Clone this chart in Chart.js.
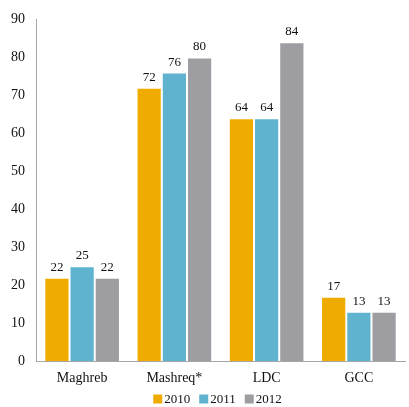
<!DOCTYPE html>
<html>
<head>
<meta charset="utf-8">
<script src="https://cdn.jsdelivr.net/npm/chart.js@4.4.1/dist/chart.umd.min.js"></script>
<style>
  html, body { margin: 0; padding: 0; background: #fff; }
  #wrap { width: 409px; height: 407px; }
</style>
</head>
<body>
<div id="wrap"><canvas id="c"></canvas></div>
<script>
const categories = ['Maghreb', 'Mashreq*', 'LDC', 'GCC'];
const years = ['2010', '2011', '2012'];
const values2010 = [22, 72, 64, 17];
const values2011 = [25, 76, 64, 13];
const values2012 = [22, 80, 84, 13];
const yTicks = [0, 10, 20, 30, 40, 50, 60, 70, 80, 90];

const colors = ['#F0AB00', '#5FB3CE', '#9E9DA1'];
const serif = "'Liberation Serif', 'Times New Roman', serif";
const textColor = '#111';

// Writes each bar's value just above its top
const valueLabels = {
  id: 'valueLabels',
  afterDatasetsDraw(chart) {
    const ctx = chart.ctx;
    ctx.save();
    ctx.font = '13px ' + serif;
    ctx.fillStyle = textColor;
    ctx.textAlign = 'center';
    ctx.textBaseline = 'alphabetic';
    chart.data.datasets.forEach((ds, i) => {
      chart.getDatasetMeta(i).data.forEach((bar, j) => {
        ctx.fillText(String(ds.data[j]), bar.x, bar.y - 7);
      });
    });
    ctx.restore();
  }
};

// Compact legend row under the category labels: small square, then year
const compactLegend = {
  id: 'compactLegend',
  afterDraw(chart) {
    const ctx = chart.ctx;
    const box = 9, gap = 2, space = 9;
    ctx.save();
    ctx.font = '13px ' + serif;
    ctx.textBaseline = 'middle';
    ctx.textAlign = 'left';
    const items = chart.data.datasets.map(ds => ({
      text: ds.label, color: ds.backgroundColor, w: ctx.measureText(ds.label).width
    }));
    const total = items.reduce((s, it) => s + box + gap + it.w, 0) + space * (items.length - 1);
    const cx = (chart.chartArea.left + chart.chartArea.right) / 2 - 3;
    let x = cx - total / 2;
    const y = chart.height - 7;
    items.forEach(it => {
      ctx.fillStyle = it.color;
      ctx.fillRect(x, y - box / 2 - 1, box, box);
      x += box + gap;
      ctx.fillStyle = textColor;
      ctx.fillText(it.text, x, y);
      x += it.w + space;
    });
    ctx.restore();
  }
};

new Chart(document.getElementById('c'), {
  type: 'bar',
  data: {
    labels: categories,
    datasets: [
      { label: years[0], data: values2010, backgroundColor: colors[0] },
      { label: years[1], data: values2011, backgroundColor: colors[1] },
      { label: years[2], data: values2012, backgroundColor: colors[2] }
    ].map(d => Object.assign(d, {
      borderColor: '#ffffff', borderWidth: 1,
      categoryPercentage: 0.82, barPercentage: 1.0
    }))
  },
  options: {
    responsive: true,
    maintainAspectRatio: false,
    animation: false,
    layout: { padding: { left: 0, right: 4, top: 18, bottom: 11 } },
    plugins: {
      legend: { display: false },
      tooltip: { enabled: false }
    },
    scales: {
      x: {
        grid: { display: false, drawTicks: false },
        border: { display: true, color: '#A6A6A6', width: 1 },
        ticks: { font: { family: serif, size: 14 }, color: textColor, padding: 9 }
      },
      y: {
        min: 0, max: 90,
        afterBuildTicks(axis) { axis.ticks = yTicks.map(v => ({ value: v })); },
        grid: { display: false, drawTicks: false },
        border: { display: true, color: '#A6A6A6', width: 1 },
        ticks: { font: { family: serif, size: 14 }, color: textColor, padding: 11 }
      }
    }
  },
  plugins: [valueLabels, compactLegend]
});
</script>
</body>
</html>
